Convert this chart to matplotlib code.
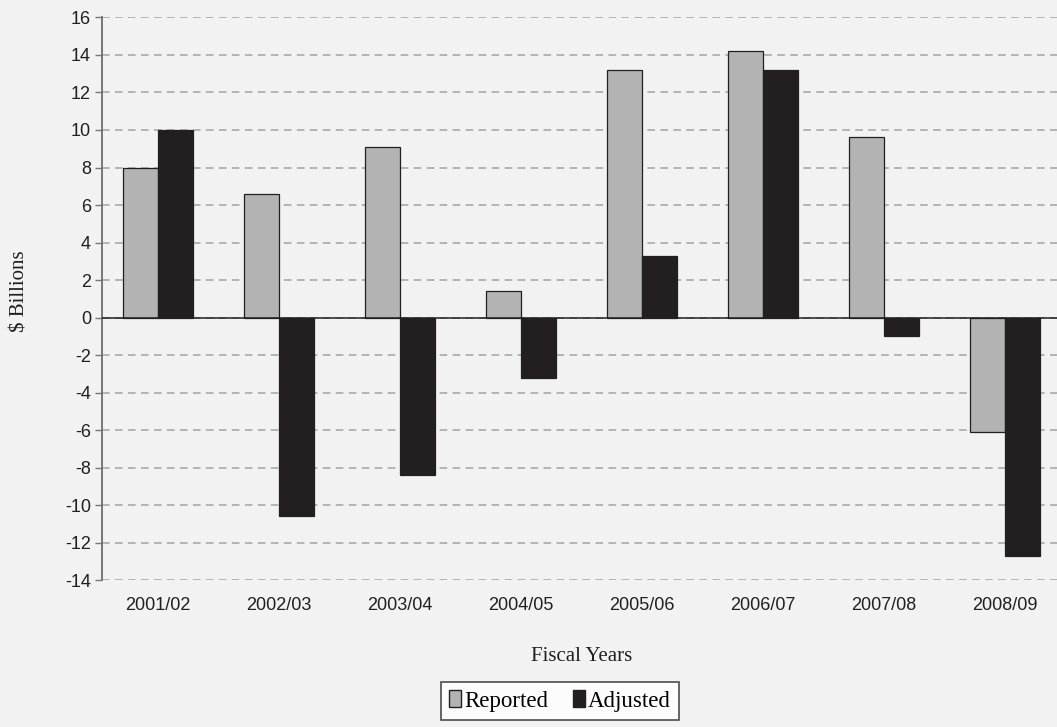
import numpy as np
import matplotlib.pyplot as plt
from matplotlib.patches import Patch

years = ['2001/02', '2002/03', '2003/04', '2004/05', '2005/06', '2006/07', '2007/08', '2008/09']
reported = [8.0, 6.6, 9.1, 1.4, 13.2, 14.2, 9.6, -6.1]
adjusted = [10.0, -10.6, -8.4, -3.2, 3.3, 13.2, -1.0, -12.7]
yticks = list(range(-14, 17, 2))

bg = '#f2f2f2'
grey_bar = '#b3b3b3'
dark_bar = '#231f20'

fig = plt.figure(figsize=(10.57, 7.27), dpi=100, facecolor=bg)
ax = fig.add_axes([0.0965, 0.202, 0.9035, 0.774], facecolor=bg)

x = np.arange(len(years))
w = 0.29
ax.bar(x - w / 2, reported, w, color=grey_bar, edgecolor='#231f20', linewidth=0.9, zorder=3)
ax.bar(x + w / 2, adjusted, w, color=dark_bar, edgecolor='#231f20', linewidth=0.9, zorder=3)

# zero line
ax.axhline(0, color='#231f20', lw=1.1, zorder=4)

ax.set_ylim(-14, 16)
ax.set_xlim(-0.463, 7.43)
ax.set_yticks(yticks)
ax.set_yticklabels([str(t) for t in yticks], fontsize=13, color='#231f20', family='Liberation Sans')
ax.set_xticks(x)
ax.set_xticklabels(years, fontsize=13, color='#231f20', family='Liberation Sans')
ax.tick_params(axis='x', length=0, pad=12)
ax.tick_params(axis='y', length=5, width=1, color='#777777', pad=3)
ax.yaxis.grid(True, linestyle=(0, (5, 3.5)), color='#a0a4a8', lw=1.1, zorder=0)
ax.set_axisbelow(True)

for s in ['top', 'right', 'bottom']:
    ax.spines[s].set_visible(False)
ax.spines['left'].set_color('#6d6d6d')
ax.spines['left'].set_linewidth(1.3)

fig.text(0.019, 0.6, '$ Billions', rotation=90, ha='center', va='center',
         fontsize=15, family='Liberation Serif', color='#231f20')
fig.text(0.55, 0.097, 'Fiscal Years', ha='center', va='center',
         fontsize=15, family='Liberation Serif', color='#231f20')

handles = [Patch(facecolor=grey_bar, edgecolor='#231f20', label='Reported'),
           Patch(facecolor=dark_bar, edgecolor='#231f20', label='Adjusted')]
leg = fig.legend(handles=handles, loc='center', bbox_to_anchor=(0.53, 0.036), ncol=2,
                 prop={'family': 'Liberation Serif', 'size': 16.5}, frameon=True, fancybox=False,
                 handlelength=0.5, handleheight=0.8, handletextpad=0.15, columnspacing=1.1,
                 borderpad=0.35, borderaxespad=0, edgecolor='#231f20', facecolor='white')
leg.get_frame().set_linewidth(1.2)

fig.savefig('out.png', dpi=100, facecolor=bg)
